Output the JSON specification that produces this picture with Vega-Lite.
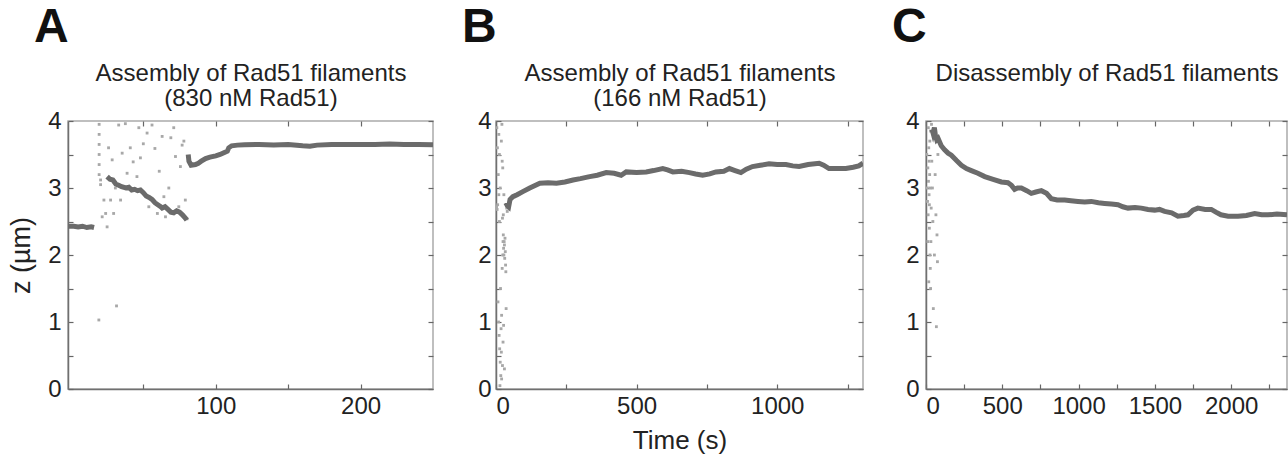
{
  "$schema": "https://vega.github.io/schema/vega-lite/v6.json",
  "bounds": "flush",
  "padding": {"left": 6, "top": 3, "right": 0, "bottom": 0},
  "config": {
    "font": "Liberation Sans",
    "view": {"stroke": "#ababab", "strokeWidth": 1.5},
    "concat": {"spacing": 63},
    "axis": {
      "grid": false,
      "domain": false,
      "tickColor": "#666666",
      "tickSize": -5,
      "tickWidth": 1.2,
      "labelFontSize": 24,
      "labelColor": "#222222",
      "labelFont": "Liberation Sans",
      "titleFont": "Liberation Sans",
      "titleFontWeight": "normal",
      "titleColor": "#222222"
    },
    "title": {"font": "Liberation Sans"}
  },
  "datasets": {
    "a_trace": [
      {"t": -2, "z": 2.43, "seg": 1}, {"t": 2, "z": 2.43, "seg": 1}, {"t": 5, "z": 2.42, "seg": 1}, {"t": 8, "z": 2.43, "seg": 1}, {"t": 11, "z": 2.41, "seg": 1}, {"t": 14, "z": 2.42, "seg": 1}, {"t": 16, "z": 2.41, "seg": 1},
      {"t": 25, "z": 3.17, "seg": 2}, {"t": 27, "z": 3.13, "seg": 2}, {"t": 29, "z": 3.12, "seg": 2}, {"t": 31, "z": 3.06, "seg": 2}, {"t": 33, "z": 3.04, "seg": 2}, {"t": 35, "z": 3.02, "seg": 2}, {"t": 38, "z": 3.0, "seg": 2}, {"t": 40, "z": 3.01, "seg": 2}, {"t": 42, "z": 2.97, "seg": 2}, {"t": 44, "z": 2.98, "seg": 2}, {"t": 46, "z": 2.96, "seg": 2}, {"t": 48, "z": 2.97, "seg": 2}, {"t": 50, "z": 2.93, "seg": 2}, {"t": 52, "z": 2.88, "seg": 2}, {"t": 54, "z": 2.86, "seg": 2}, {"t": 56, "z": 2.83, "seg": 2}, {"t": 58, "z": 2.78, "seg": 2}, {"t": 60, "z": 2.75, "seg": 2}, {"t": 62, "z": 2.72, "seg": 2}, {"t": 63, "z": 2.7, "seg": 2}, {"t": 65, "z": 2.72, "seg": 2}, {"t": 67, "z": 2.68, "seg": 2}, {"t": 69, "z": 2.64, "seg": 2}, {"t": 71, "z": 2.63, "seg": 2}, {"t": 73, "z": 2.66, "seg": 2}, {"t": 75, "z": 2.64, "seg": 2}, {"t": 77, "z": 2.6, "seg": 2}, {"t": 79, "z": 2.55, "seg": 2}, {"t": 80, "z": 2.52, "seg": 2},
      {"t": 81, "z": 3.5, "seg": 3}, {"t": 81.5, "z": 3.4, "seg": 3}, {"t": 83, "z": 3.34, "seg": 3}, {"t": 86, "z": 3.35, "seg": 3}, {"t": 88, "z": 3.37, "seg": 3}, {"t": 90, "z": 3.4, "seg": 3}, {"t": 93, "z": 3.44, "seg": 3}, {"t": 96, "z": 3.46, "seg": 3}, {"t": 100, "z": 3.48, "seg": 3}, {"t": 103, "z": 3.5, "seg": 3}, {"t": 106, "z": 3.53, "seg": 3}, {"t": 108, "z": 3.55, "seg": 3}, {"t": 109, "z": 3.6, "seg": 3}, {"t": 111, "z": 3.63, "seg": 3}, {"t": 115, "z": 3.64, "seg": 3}, {"t": 120, "z": 3.645, "seg": 3}, {"t": 130, "z": 3.65, "seg": 3}, {"t": 140, "z": 3.64, "seg": 3}, {"t": 150, "z": 3.65, "seg": 3}, {"t": 160, "z": 3.63, "seg": 3}, {"t": 165, "z": 3.625, "seg": 3}, {"t": 170, "z": 3.64, "seg": 3}, {"t": 180, "z": 3.65, "seg": 3}, {"t": 190, "z": 3.65, "seg": 3}, {"t": 200, "z": 3.65, "seg": 3}, {"t": 210, "z": 3.65, "seg": 3}, {"t": 220, "z": 3.655, "seg": 3}, {"t": 230, "z": 3.65, "seg": 3}, {"t": 240, "z": 3.65, "seg": 3}, {"t": 250, "z": 3.645, "seg": 3}
    ],
    "a_scatter": [
      {"t": 19.5, "z": 3.95}, {"t": 19.5, "z": 3.8}, {"t": 19.5, "z": 3.65}, {"t": 19.5, "z": 3.5}, {"t": 19.5, "z": 3.35}, {"t": 19.5, "z": 3.2}, {"t": 20.5, "z": 3.05}, {"t": 20.5, "z": 3.12}, {"t": 19.3, "z": 1.03}, {"t": 31.5, "z": 1.24}, {"t": 25, "z": 2.42}, {"t": 24, "z": 2.62},
      {"t": 26, "z": 3.6}, {"t": 29.5, "z": 2.62}, {"t": 30.7, "z": 3.0}, {"t": 33, "z": 3.94}, {"t": 37.6, "z": 3.96}, {"t": 41, "z": 3.6}, {"t": 43, "z": 3.39}, {"t": 46.9, "z": 3.9}, {"t": 50, "z": 3.66}, {"t": 53.8, "z": 2.72}, {"t": 56, "z": 3.94}, {"t": 58, "z": 3.59}, {"t": 63, "z": 3.77}, {"t": 65.3, "z": 2.57}, {"t": 67.6, "z": 3.0}, {"t": 71, "z": 3.9}, {"t": 74.5, "z": 2.72}, {"t": 76.8, "z": 3.64}, {"t": 79, "z": 2.82}, {"t": 80.2, "z": 2.54}, {"t": 34.3, "z": 2.82}, {"t": 38.8, "z": 3.22}, {"t": 45.6, "z": 3.17}, {"t": 52.6, "z": 3.82}, {"t": 59.7, "z": 2.62}, {"t": 64.2, "z": 2.87}, {"t": 72.2, "z": 3.47}, {"t": 75.6, "z": 3.32}, {"t": 21.6, "z": 2.57}, {"t": 22.8, "z": 2.82}, {"t": 27.4, "z": 2.82}, {"t": 28.5, "z": 3.42}, {"t": 35.4, "z": 3.52}, {"t": 48, "z": 3.45}, {"t": 61, "z": 3.25}, {"t": 69, "z": 3.75}, {"t": 78, "z": 3.7}
    ],
    "b_trace": [
      {"t": 35, "z": 2.78}, {"t": 40, "z": 2.74}, {"t": 45, "z": 2.72}, {"t": 50, "z": 2.83}, {"t": 60, "z": 2.87}, {"t": 75, "z": 2.9}, {"t": 97, "z": 2.95}, {"t": 120, "z": 3.0}, {"t": 156, "z": 3.07}, {"t": 185, "z": 3.08}, {"t": 215, "z": 3.07}, {"t": 245, "z": 3.09}, {"t": 274, "z": 3.12}, {"t": 300, "z": 3.14}, {"t": 333, "z": 3.17}, {"t": 360, "z": 3.19}, {"t": 392, "z": 3.23}, {"t": 420, "z": 3.22}, {"t": 445, "z": 3.19}, {"t": 463, "z": 3.24}, {"t": 500, "z": 3.23}, {"t": 534, "z": 3.24}, {"t": 560, "z": 3.26}, {"t": 593, "z": 3.29}, {"t": 610, "z": 3.27}, {"t": 629, "z": 3.24}, {"t": 660, "z": 3.25}, {"t": 688, "z": 3.23}, {"t": 710, "z": 3.21}, {"t": 735, "z": 3.19}, {"t": 760, "z": 3.21}, {"t": 782, "z": 3.24}, {"t": 810, "z": 3.25}, {"t": 830, "z": 3.29}, {"t": 850, "z": 3.26}, {"t": 871, "z": 3.23}, {"t": 890, "z": 3.28}, {"t": 912, "z": 3.32}, {"t": 940, "z": 3.34}, {"t": 971, "z": 3.36}, {"t": 1000, "z": 3.35}, {"t": 1031, "z": 3.35}, {"t": 1055, "z": 3.33}, {"t": 1078, "z": 3.32}, {"t": 1110, "z": 3.35}, {"t": 1149, "z": 3.37}, {"t": 1165, "z": 3.34}, {"t": 1184, "z": 3.29}, {"t": 1210, "z": 3.29}, {"t": 1244, "z": 3.29}, {"t": 1270, "z": 3.31}, {"t": 1290, "z": 3.33}, {"t": 1305, "z": 3.37}
    ],
    "b_scatter": [
      {"t": 2, "z": 2.72}, {"t": 4, "z": 2.68}, {"t": 6, "z": 2.75}, {"t": 3, "z": 3.9}, {"t": 5, "z": 3.6}, {"t": 8, "z": 3.2}, {"t": 10, "z": 2.9}, {"t": 12, "z": 2.5}, {"t": 7, "z": 1.3}, {"t": 9, "z": 1.0}, {"t": 11, "z": 0.8}, {"t": 13, "z": 0.6}, {"t": 15, "z": 0.4}, {"t": 17, "z": 0.2}, {"t": 14, "z": 0.05}, {"t": 18, "z": 0.9}, {"t": 20, "z": 1.1}, {"t": 16, "z": 1.5}, {"t": 22, "z": 1.8}, {"t": 24, "z": 2.0}, {"t": 25, "z": 2.2}, {"t": 26, "z": 2.3}, {"t": 27, "z": 2.1}, {"t": 28, "z": 2.0}, {"t": 29, "z": 2.2}, {"t": 30, "z": 2.15}, {"t": 31, "z": 1.95}, {"t": 32, "z": 2.25}, {"t": 33, "z": 2.05}, {"t": 34, "z": 1.85}, {"t": 35, "z": 1.75}, {"t": 26, "z": 2.6}, {"t": 28, "z": 2.9}, {"t": 22, "z": 3.4}, {"t": 19, "z": 3.7}, {"t": 21, "z": 3.95}, {"t": 24, "z": 3.3}, {"t": 36, "z": 1.2}, {"t": 30, "z": 0.3}, {"t": 25, "z": 0.7}, {"t": 20, "z": 0.15}, {"t": 38, "z": 2.7}, {"t": 40, "z": 2.65}, {"t": 23, "z": 2.55}, {"t": 12, "z": 3.5}, {"t": 15, "z": 3.0}, {"t": 10, "z": 3.8}, {"t": 19, "z": 0.55}, {"t": 23, "z": 0.35}, {"t": 27, "z": 0.95}
    ],
    "c_trace": [
      {"t": 40, "z": 3.87}, {"t": 46, "z": 3.82}, {"t": 55, "z": 3.9}, {"t": 62, "z": 3.78}, {"t": 70, "z": 3.72}, {"t": 79, "z": 3.74}, {"t": 100, "z": 3.63}, {"t": 122, "z": 3.57}, {"t": 145, "z": 3.52}, {"t": 166, "z": 3.49}, {"t": 200, "z": 3.41}, {"t": 232, "z": 3.34}, {"t": 265, "z": 3.29}, {"t": 297, "z": 3.26}, {"t": 340, "z": 3.22}, {"t": 385, "z": 3.17}, {"t": 440, "z": 3.13}, {"t": 494, "z": 3.09}, {"t": 537, "z": 3.08}, {"t": 560, "z": 3.04}, {"t": 581, "z": 2.98}, {"t": 600, "z": 3.0}, {"t": 625, "z": 3.0}, {"t": 660, "z": 2.96}, {"t": 690, "z": 2.92}, {"t": 720, "z": 2.94}, {"t": 756, "z": 2.96}, {"t": 790, "z": 2.92}, {"t": 821, "z": 2.84}, {"t": 860, "z": 2.82}, {"t": 909, "z": 2.82}, {"t": 950, "z": 2.81}, {"t": 996, "z": 2.8}, {"t": 1040, "z": 2.79}, {"t": 1083, "z": 2.8}, {"t": 1130, "z": 2.78}, {"t": 1171, "z": 2.77}, {"t": 1215, "z": 2.76}, {"t": 1258, "z": 2.75}, {"t": 1290, "z": 2.72}, {"t": 1324, "z": 2.7}, {"t": 1370, "z": 2.71}, {"t": 1411, "z": 2.7}, {"t": 1455, "z": 2.68}, {"t": 1499, "z": 2.67}, {"t": 1530, "z": 2.68}, {"t": 1564, "z": 2.65}, {"t": 1610, "z": 2.63}, {"t": 1651, "z": 2.58}, {"t": 1690, "z": 2.59}, {"t": 1717, "z": 2.6}, {"t": 1750, "z": 2.67}, {"t": 1782, "z": 2.7}, {"t": 1830, "z": 2.68}, {"t": 1870, "z": 2.68}, {"t": 1900, "z": 2.64}, {"t": 1933, "z": 2.6}, {"t": 1980, "z": 2.58}, {"t": 2045, "z": 2.58}, {"t": 2100, "z": 2.59}, {"t": 2154, "z": 2.62}, {"t": 2200, "z": 2.6}, {"t": 2241, "z": 2.6}, {"t": 2300, "z": 2.61}, {"t": 2366, "z": 2.6}
    ],
    "c_scatter": [
      {"t": 5, "z": 3.5}, {"t": 8, "z": 3.0}, {"t": 10, "z": 2.8}, {"t": 12, "z": 3.3}, {"t": 14, "z": 2.6}, {"t": 15, "z": 3.9}, {"t": 18, "z": 3.6}, {"t": 20, "z": 2.9}, {"t": 22, "z": 2.4}, {"t": 24, "z": 3.2}, {"t": 26, "z": 2.0}, {"t": 28, "z": 1.8}, {"t": 30, "z": 1.5}, {"t": 32, "z": 2.2}, {"t": 34, "z": 2.7}, {"t": 36, "z": 3.95}, {"t": 38, "z": 3.4}, {"t": 42, "z": 3.0}, {"t": 45, "z": 2.5}, {"t": 50, "z": 3.8}, {"t": 55, "z": 2.0}, {"t": 60, "z": 3.2}, {"t": 65, "z": 2.6}, {"t": 68, "z": 0.93}, {"t": 72, "z": 2.3}, {"t": 75, "z": 1.9}, {"t": 78, "z": 3.5}, {"t": 25, "z": 3.7}, {"t": 30, "z": 3.85}, {"t": 12, "z": 2.2}, {"t": 18, "z": 1.6}, {"t": 48, "z": 1.2}, {"t": 16, "z": 3.1}, {"t": 20, "z": 3.4}, {"t": 22, "z": 2.75}, {"t": 26, "z": 3.0}
    ]
  },
  "hconcat": [
    {
      "width": 365,
      "height": 268,
      "title": {"text": "A", "anchor": "start", "frame": "group", "dx": -34, "fontSize": 48, "fontWeight": "bold", "color": "#111111", "offset": 9},
      "layer": [
        {
          "data": {"name": "a_scatter"},
          "mark": {"type": "square", "size": 8, "color": "#a8a8a8", "opacity": 1, "clip": true},
          "encoding": {
            "x": {"field": "t", "type": "quantitative", "scale": {"domain": [-2, 250], "nice": false, "zero": false},
              "axis": {"orient": "bottom", "format": "d", "values": [50, 100, 150, 200], "labelExpr": "datum.value % 100 === 0 ? datum.label : ''", "title": null, "labelPadding": 10, "domain": true, "domainColor": "#707070", "domainWidth": 1.5}},
            "y": {"field": "z", "type": "quantitative", "scale": {"domain": [0, 4], "nice": false},
              "axis": {"orient": "left", "format": "~g", "values": [0, 0.5, 1, 1.5, 2, 2.5, 3, 3.5, 4], "labelExpr": "datum.value % 1 === 0 ? datum.label : ''", "title": "z (µm)", "titleFontSize": 27, "titlePadding": 12, "labelPadding": 12, "domain": true, "domainColor": "#707070", "domainWidth": 1.5}}
          }
        },
        {
          "data": {"name": "a_trace"},
          "mark": {"type": "line", "color": "#6b6b6b", "strokeWidth": 5, "clip": true},
          "encoding": {
            "x": {"field": "t", "type": "quantitative", "axis": {"orient": "top", "values": [50, 100, 150, 200], "labels": false, "title": ["Assembly of Rad51 filaments", "(830 nM Rad51)"], "titleFontSize": 24, "titleLineHeight": 25, "titlePadding": 10}},
            "y": {"field": "z", "type": "quantitative", "axis": {"orient": "right", "values": [0, 0.5, 1, 1.5, 2, 2.5, 3, 3.5, 4], "labels": false, "title": null}},
            "detail": {"field": "seg", "type": "nominal"}
          }
        }
      ]
    },
    {
      "width": 367,
      "height": 268,
      "title": {"text": "B", "anchor": "start", "frame": "group", "dx": -34, "fontSize": 48, "fontWeight": "bold", "color": "#111111", "offset": 9},
      "layer": [
        {
          "data": {"name": "b_scatter"},
          "mark": {"type": "square", "size": 8, "color": "#a8a8a8", "opacity": 1, "clip": true},
          "encoding": {
            "x": {"field": "t", "type": "quantitative", "scale": {"domain": [0, 1305], "nice": false, "zero": false},
              "axis": {"orient": "bottom", "format": "d", "values": [0, 250, 500, 750, 1000, 1250], "labelExpr": "datum.value % 500 === 0 ? datum.label : ''", "title": "Time (s)", "titleFontSize": 26, "titlePadding": 9, "labelPadding": 10, "domain": true, "domainColor": "#707070", "domainWidth": 1.5}},
            "y": {"field": "z", "type": "quantitative", "scale": {"domain": [0, 4], "nice": false},
              "axis": {"orient": "left", "format": "~g", "values": [0, 0.5, 1, 1.5, 2, 2.5, 3, 3.5, 4], "labelExpr": "datum.value % 1 === 0 ? datum.label : ''", "title": null, "labelPadding": 10, "domain": true, "domainColor": "#707070", "domainWidth": 1.5}}
          }
        },
        {
          "data": {"name": "b_trace"},
          "mark": {"type": "line", "color": "#6b6b6b", "strokeWidth": 5, "clip": true},
          "encoding": {
            "x": {"field": "t", "type": "quantitative", "axis": {"orient": "top", "values": [0, 250, 500, 750, 1000, 1250], "labels": false, "title": ["Assembly of Rad51 filaments", "(166 nM Rad51)"], "titleFontSize": 24, "titleLineHeight": 25, "titlePadding": 10}},
            "y": {"field": "z", "type": "quantitative", "axis": {"orient": "right", "values": [0, 0.5, 1, 1.5, 2, 2.5, 3, 3.5, 4], "labels": false, "title": null}}
          }
        }
      ]
    },
    {
      "width": 361,
      "height": 268,
      "title": {"text": "C", "anchor": "start", "frame": "group", "dx": -34, "fontSize": 48, "fontWeight": "bold", "color": "#111111", "offset": 9},
      "layer": [
        {
          "data": {"name": "c_scatter"},
          "mark": {"type": "square", "size": 8, "color": "#a8a8a8", "opacity": 1, "clip": true},
          "encoding": {
            "x": {"field": "t", "type": "quantitative", "scale": {"domain": [0, 2366], "nice": false, "zero": false},
              "axis": {"orient": "bottom", "format": "d", "values": [0, 250, 500, 750, 1000, 1250, 1500, 1750, 2000, 2250], "labelExpr": "datum.value % 500 === 0 ? datum.label : ''", "title": null, "labelPadding": 10, "domain": true, "domainColor": "#707070", "domainWidth": 1.5}},
            "y": {"field": "z", "type": "quantitative", "scale": {"domain": [0, 4], "nice": false},
              "axis": {"orient": "left", "format": "~g", "values": [0, 0.5, 1, 1.5, 2, 2.5, 3, 3.5, 4], "labelExpr": "datum.value % 1 === 0 ? datum.label : ''", "title": null, "labelPadding": 12, "domain": true, "domainColor": "#707070", "domainWidth": 1.5}}
          }
        },
        {
          "data": {"name": "c_trace"},
          "mark": {"type": "line", "color": "#6b6b6b", "strokeWidth": 5, "clip": true},
          "encoding": {
            "x": {"field": "t", "type": "quantitative", "axis": {"orient": "top", "values": [0, 250, 500, 750, 1000, 1250, 1500, 1750, 2000, 2250], "labels": false, "title": "Disassembly of Rad51 filaments", "titleFontSize": 24, "titlePadding": 35}},
            "y": {"field": "z", "type": "quantitative", "axis": {"orient": "right", "values": [0, 0.5, 1, 1.5, 2, 2.5, 3, 3.5, 4], "labels": false, "title": null}}
          }
        }
      ]
    }
  ]
}
